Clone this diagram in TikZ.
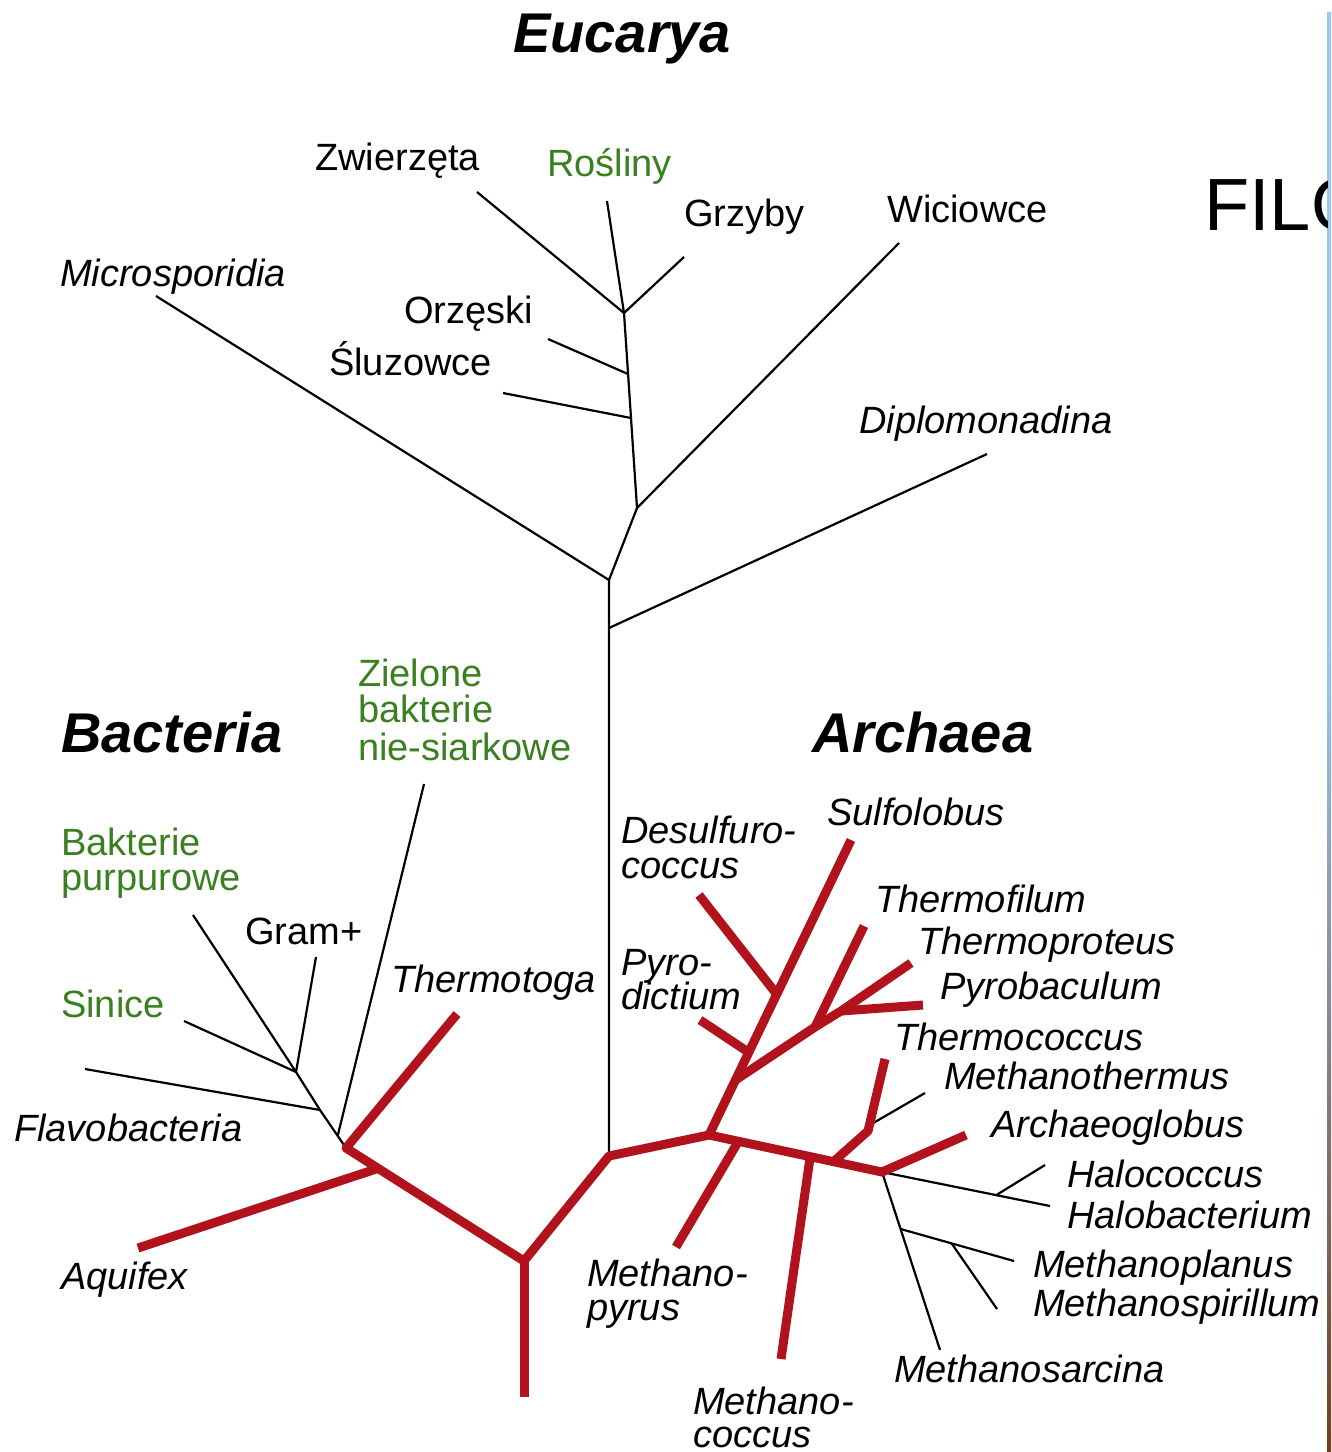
\documentclass[tikz,border=0pt]{standalone}
\usepackage{fontspec}
\setmainfont{Liberation Sans}
\usetikzlibrary{calc}
\definecolor{treered}{RGB}{178,18,28}
\definecolor{treegreen}{RGB}{58,128,32}
\definecolor{edgeblue}{RGB}{150,200,250}
\definecolor{edgeorange}{RGB}{205,135,85}
\definecolor{edgebrown}{RGB}{120,60,25}
\begin{document}
\begin{tikzpicture}[x=1pt,y=-1pt,
  blackline/.style={line width=2.2pt, black, line join=round},
  redline/.style={line width=9pt, treered, line join=round},
  itlab/.style={anchor=base west, inner sep=0pt, font=\fontsize{38}{44}\selectfont\itshape},
  uplab/.style={anchor=base west, inner sep=0pt, font=\fontsize{38}{44}\selectfont},
  greenlab/.style={uplab, text=treegreen},
  domainlab/.style={anchor=base west, inner sep=0pt, font=\fontsize{56}{60}\selectfont\bfseries\itshape}]
\useasboundingbox (0,0) rectangle (1332,1452);
\fill[white] (0,0) rectangle (1332,1452);

% right edge strip
\fill[edgeblue] (1327,12) rectangle (1331,650);
\shade[top color=edgeblue, middle color=edgeorange, bottom color=edgebrown] (1327,650) rectangle (1331,1452);
\begin{scope}
  \clip (1150,100) rectangle (1327,300);
  \node[anchor=base west, inner sep=0pt, font=\fontsize{74}{80}\selectfont] (filo) at (1204,230) {FILO};
\end{scope}

% ---------- coordinates: Eucarya ----------
\coordinate (Eroot) at (609,580);
\coordinate (C) at (609,1156);
\coordinate (Dj) at (609,628);
\coordinate (De) at (987,454);
\coordinate (Mie) at (156,296);
\coordinate (S5) at (637,508);
\coordinate (Wie) at (899,243);
\coordinate (S3) at (631,418);
\coordinate (Sle) at (503,393);
\coordinate (S2) at (628,374);
\coordinate (Ore) at (548,339);
\coordinate (S1) at (624,313);
\coordinate (Zwe) at (477,192);
\coordinate (Roe) at (607,201);
\coordinate (Gre) at (684,257);

% ---------- Bacteria ----------
\coordinate (B0) at (346,1148);
\coordinate (B1) at (320,1110);
\coordinate (B2) at (296,1072);
\coordinate (Fle) at (85,1069);
\coordinate (Pue) at (193,915);
\coordinate (Gpe) at (316,957);
\coordinate (Sie) at (184,1021);
\coordinate (Zie) at (424,784);
\coordinate (Zij) at ($(B1)!0.68!(B0)$);
\coordinate (Tte) at (457,1014);
\coordinate (RJ) at (524,1261);
\coordinate (RB) at (524,1397);
\coordinate (Aqe) at (138,1248);
\coordinate (Aqj) at ($(B0)!0.18!(RJ)$);

% ---------- Archaea ----------
\coordinate (A1) at (709,1135);
\coordinate (AM) at (882,1172);
\coordinate (Mpj) at ($(A1)!0.17!(AM)$);
\coordinate (Mpe) at (676,1247);
\coordinate (Mcj) at ($(A1)!0.585!(AM)$);
\coordinate (Mce) at (781,1359);
\coordinate (Tcj) at ($(A1)!0.72!(AM)$);
\coordinate (Tcb) at (868,1131);
\coordinate (Tce) at (885,1059);
\coordinate (Mtj) at ($(Tcb)!0.08!(Tce)$);
\coordinate (Mte) at (925,1093);
\coordinate (Age) at (966,1135);
\coordinate (Sue) at (851,840);
\coordinate (K1) at ($(A1)!0.186!(Sue)$);
\coordinate (Pyj) at ($(A1)!0.28!(Sue)$);
\coordinate (Pye) at (700,1020);
\coordinate (Dsj) at ($(A1)!0.477!(Sue)$);
\coordinate (Dse) at (699,895);
\coordinate (T1) at (815,1027);
\coordinate (T2) at (841,1011);
\coordinate (Tfe) at (864,926);
\coordinate (Tpe) at (911,963);
\coordinate (Pbe) at (923,1005);
\coordinate (Hbe) at (1050,1206);
\coordinate (Hcj) at ($(AM)!0.68!(Hbe)$);
\coordinate (Hce) at (1045,1165);
\coordinate (Mse) at (940,1350);
\coordinate (Mplj) at ($(AM)!0.32!(Mse)$);
\coordinate (Mple) at (1014,1261);
\coordinate (Mspj) at ($(Mplj)!0.45!(Mple)$);
\coordinate (Mspe) at (997,1309);

% ---------- black lines ----------
\draw[blackline] (C) -- (Eroot) -- (S5) -- (S1);
\draw[blackline] (Dj) -- (De);
\draw[blackline] (Eroot) -- (Mie);
\draw[blackline] (S5) -- (Wie);
\draw[blackline] (S3) -- (Sle);
\draw[blackline] (S2) -- (Ore);
\draw[blackline] (Zwe) -- (S1) -- (Gre);
\draw[blackline] (Roe) -- (S1);

\draw[blackline] (B0) -- (B1) -- (B2) -- (Pue);
\draw[blackline] (B1) -- (Fle);
\draw[blackline] (B2) -- (Gpe);
\draw[blackline] (B2) -- (Sie);
\draw[blackline] (Zij) -- (Zie);

\draw[blackline] (Mtj) -- (Mte);
\draw[blackline] (AM) -- (Hbe);
\draw[blackline] (Hcj) -- (Hce);
\draw[blackline] (AM) -- (Mse);
\draw[blackline] (Mplj) -- (Mple);
\draw[blackline] (Mspj) -- (Mspe);

% ---------- red lines ----------
\draw[redline] (Tte) -- (B0) -- (RJ) -- (C) -- (A1) -- (AM) -- (Age);
\draw[redline] (RJ) -- (RB);
\draw[redline] (Aqe) -- (Aqj);
\draw[redline] (Mpj) -- (Mpe);
\draw[redline] (Mcj) -- (Mce);
\draw[redline] (Tcj) -- (Tcb) -- (Tce);
\draw[redline] (A1) -- (Sue);
\draw[redline] (Pyj) -- (Pye);
\draw[redline] (Dsj) -- (Dse);
\draw[redline] (K1) -- (T1) -- (T2) -- (Tpe);
\draw[redline] (T1) -- (Tfe);
\draw[redline] (T2) -- (Pbe);

% ---------- labels ----------
\node[domainlab] (eucarya) at (513,52) {Eucarya};
\node[domainlab] (bacteria) at (61,752) {Bacteria};
\node[domainlab] (archaea) at (812,752) {Archaea};

\node[uplab] (zw) at (315,170) {Zwierzęta};
\node[greenlab] (ro) at (547,176) {Rośliny};
\node[uplab] (gr) at (684,226) {Grzyby};
\node[uplab] (wi) at (887,222) {Wiciowce};
\node[itlab] (mi) at (60,286) {Microsporidia};
\node[uplab] (or) at (404,323) {Orzęski};
\node[uplab] (sl) at (329,375) {Śluzowce};
\node[itlab] (di) at (859,433) {Diplomonadina};

\node[greenlab] (zi1) at (358,686) {Zielone};
\node[greenlab] (zi2) at (358,722) {bakterie};
\node[greenlab] (zi3) at (358,760) {nie-siarkowe};
\node[greenlab] (bp1) at (61,855) {Bakterie};
\node[greenlab] (bp2) at (61,890) {purpurowe};
\node[uplab] (gp) at (245,944) {Gram+};
\node[greenlab] (si) at (61,1017) {Sinice};
\node[itlab] (fl) at (14,1141) {Flavobacteria};
\node[itlab] (tt) at (391,992) {Thermotoga};
\node[itlab] (aq) at (61,1289) {Aquifex};

\node[itlab] (ds1) at (621,843) {Desulfuro-};
\node[itlab] (ds2) at (621,878) {coccus};
\node[itlab] (su) at (827,825) {Sulfolobus};
\node[itlab] (tf) at (875,912) {Thermofilum};
\node[itlab] (tp) at (918,954) {Thermoproteus};
\node[itlab] (py1) at (621,975) {Pyro-};
\node[itlab] (py2) at (621,1009) {dictium};
\node[itlab] (pb) at (940,999) {Pyrobaculum};
\node[itlab] (tc) at (894,1050) {Thermococcus};
\node[itlab] (mt) at (944,1089) {Methanothermus};
\node[itlab] (ag) at (991,1137) {Archaeoglobus};
\node[itlab] (hc) at (1067,1187) {Halococcus};
\node[itlab] (hb) at (1067,1228) {Halobacterium};
\node[itlab] (mpl) at (1033,1277) {Methanoplanus};
\node[itlab] (msp) at (1033,1316) {Methanospirillum};
\node[itlab] (msa) at (894,1382) {Methanosarcina};
\node[itlab] (mp1) at (587,1286) {Methano-};
\node[itlab] (mp2) at (587,1320) {pyrus};
\node[itlab] (mc1) at (693,1414) {Methano-};
\node[itlab] (mc2) at (693,1447) {coccus};
\end{tikzpicture}
\end{document}
